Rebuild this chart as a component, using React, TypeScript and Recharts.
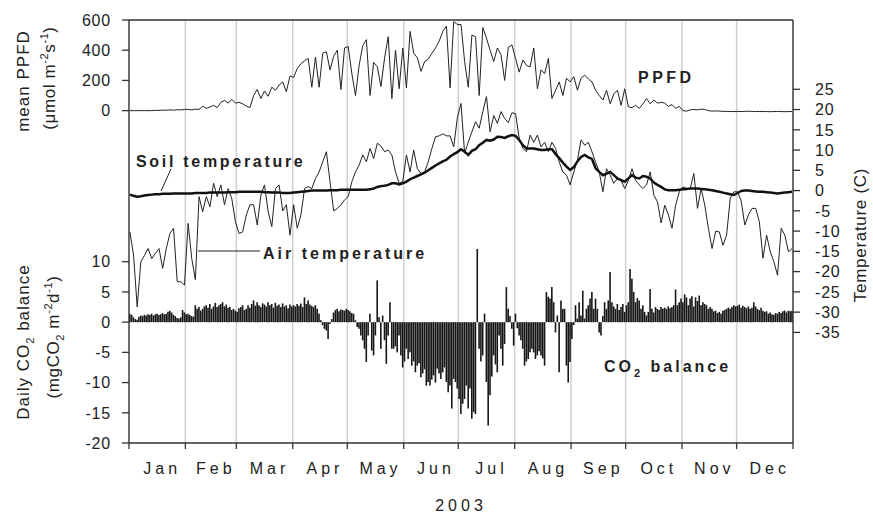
import React from "react";
import { ComposedChart, Bar, Line, XAxis, YAxis, CartesianGrid, ReferenceLine } from "recharts";

const MONTHS = ["Jan", "Feb", "Mar", "Apr", "May", "Jun", "Jul", "Aug", "Sep", "Oct", "Nov", "Dec"];
const MONTH_STARTS = [0, 31, 59, 90, 120, 151, 181, 212, 243, 273, 304, 334, 365];

// daily CO2 balance (mgCO2 m-2 d-1), one bar per day
const co2Jan = [1.4, 1.2, 0.8, 0.5, 0.4, 0.9, 1.1, 1.0, 1.2, 1.1, 1.3, 1.2, 1.4, 1.1, 1.3, 1.4, 1.2, 1.3, 1.5, 1.3, 1.4, 1.7, 1.9, 1.6, 1.2, 1.0, 0.7, 0.6, 0.8, 2.0, 1.6];
const co2Feb = [1.3, 1.4, 1.2, 1.0, 0.9, 2.8, 2.2, 2.5, 1.9, 2.2, 2.6, 2.8, 2.4, 3.0, 2.2, 2.6, 3.2, 2.5, 2.8, 3.0, 3.3, 2.6, 2.9, 2.4, 2.5, 2.0, 2.2, 1.9];
const co2Mar = [1.7, 2.3, 2.5, 2.8, 2.0, 2.2, 2.8, 2.4, 3.0, 3.6, 2.7, 3.3, 2.8, 2.5, 3.1, 2.9, 2.6, 3.3, 2.8, 3.0, 2.4, 3.2, 2.7, 2.9, 2.5, 3.1, 2.6, 2.8, 2.3, 2.9, 2.6];
const co2Apr = [2.8, 2.6, 3.0, 2.7, 3.1, 2.5, 4.1, 3.0, 3.6, 2.9, 2.7, 2.5, 2.8, 2.2, 1.4, 0.3, -0.5, -1.1, -1.4, -2.8, -0.3, 0.5, 1.6, 2.0, 2.2, 1.8, 2.1, 2.0, 1.9, 2.2];
const co2May = [2.0, 1.8, 1.5, 1.4, 0.3, -0.8, -1.1, -2.2, -3.0, -4.4, -6.6, -2.2, 1.4, -4.7, -5.5, -2.2, 6.9, 0.8, -4.4, 1.1, -3.0, -6.9, -2.2, 3.3, -4.4, -4.4, -4.0, -5.0, -2.2, -5.5, -7.5];
const co2Jun = [-6.5, -4.4, -6.1, -5.0, -7.2, -6.5, -8.3, -7.2, -6.8, -9.1, -8.5, -7.8, -10.5, -9.9, -10.5, -9.5, -8.8, -10.0, -7.7, -8.5, -9.4, -8.3, -7.5, -9.9, -11.6, -10.5, -14.3, -9.4, -9.9, -11.0];
const co2Jul = [-12.7, -15.2, -13.5, -12.7, -10.5, -14.3, -11.0, -16.0, -14.9, -15.2, 12.1, -4.4, -6.5, -5.5, 1.4, -9.9, -17.1, -12.1, -9.0, -5.5, -7.0, -8.3, -2.2, -4.4, -7.2, -3.6, 5.8, 2.2, 1.0, -1.1, -3.9];
const co2Aug = [1.4, -1.0, -2.2, -3.0, -4.4, -7.2, -6.5, -6.1, -5.0, -4.4, -5.0, -6.1, -5.5, -4.8, -5.5, -6.0, -7.2, 5.0, 4.2, 3.9, 5.8, 3.3, -1.7, 1.1, -8.3, 3.6, 2.2, 2.2, -7.2, -10.0, -6.6];
const co2Sep = [-2.8, -0.5, 2.8, 0.6, 3.3, 1.1, 5.2, 0.6, 2.2, 2.8, 3.9, 5.0, 2.2, 3.9, 2.2, -1.7, -2.2, 1.0, 3.3, 2.2, 3.6, 8.3, 3.3, 2.6, 2.2, 3.0, 2.0, 2.5, 3.0, 1.7];
const co2Oct = [2.8, 3.3, 8.8, 7.2, 5.0, 3.3, 4.0, 3.6, 2.2, 2.8, 1.7, 1.1, 1.7, 5.5, 2.2, 1.6, 2.5, 2.2, 2.0, 2.5, 2.2, 2.4, 2.2, 2.6, 2.3, 2.5, 2.8, 5.4, 2.8, 3.3, 3.9];
const co2Nov = [3.3, 4.6, 4.1, 2.8, 3.9, 4.3, 2.6, 4.1, 3.5, 4.4, 2.8, 3.3, 3.0, 2.8, 2.2, 2.5, 2.2, 1.8, 1.9, 1.5, 1.7, 1.4, 1.9, 2.0, 2.2, 2.4, 2.2, 2.5, 2.8, 2.6];
const co2Dec = [2.7, 2.9, 2.4, 2.7, 2.5, 2.3, 2.6, 2.2, 2.4, 3.3, 2.6, 2.2, 2.0, 2.4, 1.9, 1.7, 1.8, 1.4, 1.6, 1.3, 1.2, 1.5, 1.4, 1.7, 1.5, 1.8, 1.9, 1.6, 1.9, 1.8, 1.9];

// every second day (day 1, 3, 5 ... 365), one row per month
const ppfd = [
  0, 0, 0, 0, 0, 0, 0, 2, 2, 3, 3, 5, 3, 6, 5, 8,
  8, 5, 10, 8, 30, 15, 25, 35, 20, 55, 68, 50, 75, 50,
  55, 45, 30, 20, 100, 140, 80, 130, 95, 155, 135, 170, 190, 125, 230,
  220, 280, 310, 330, 345, 155, 355, 155, 380, 390, 270, 360, 400, 140, 415,
  425, 245, 100, 300, 430, 470, 100, 320, 290, 160, 350, 490, 80, 400, 145, 415,
  150, 525, 380, 350, 260, 325, 340, 380, 415, 460, 525, 560, 150, 590, 570,
  570, 325, 155, 500, 490, 100, 550, 480, 400, 325, 415, 370, 200, 420, 435,
  345, 255, 335, 300, 290, 415, 145, 270, 245, 345, 80, 135, 190, 100, 215, 190,
  225, 135, 215, 235, 210, 190, 135, 100, 70, 135, 45, 110, 135, 35, 145,
  25, 20, 35, 15, 45, 80, 45, 70, 50, 55, 50, 28, 40, 15, 28,
  0, -3, 5, 8, 5, 10, 8, 0, -3, -2, -3, -5, -5, -6, -6,
  -5, -6, -5, -4, -5, -6, -5, -6, -6, -7, -6, -5, -6, -7, -6, -6,
];

const airTemp = [
  -10.2, -15.9, -28.7, -17.6, -16.0, -14.3, -16.8, -15.5, -14.3, -19.2, -14.3, -10.6, -9.3, -22.5, -22.5, -23.3,
  -8.1, -16.8, -22.0, -1.5, -5.2, -1.5, -4.0, 1.8, -1.5, 1.4, -3.5, 0.5, -2.0, -7.7,
  -10.6, -10.2, -6.0, -3.5, -3.5, -8.5, -1.1, 1.4, -5.2, -8.9, 0.5, 1.4, -5.0, -3.5, -11.0,
  -3.5, -9.3, -6.0, 0.5, 1.0, 0.5, 3.0, 4.6, 7.1, 9.6, 2.2, -5.0, -4.4, -3.5, -2.3,
  -1.5, 2.2, 4.6, 6.3, 8.8, 7.1, 10.4, 7.9, 11.7, 11.0, 9.6, 10.0, 8.8, 4.6, 1.8, 2.2,
  8.8, 4.6, 10.0, 5.4, 4.2, 4.6, 7.1, 10.4, 13.3, 13.5, 14.0, 13.5, 13.5, 10.8, 18.0,
  21.5, 9.2, 12.0, 14.5, 17.0, 15.4, 19.5, 23.2, 14.5, 18.5, 16.6, 19.5, 17.8, 16.8, 19.2,
  19.0, 12.9, 10.4, 9.6, 13.7, 11.9, 13.7, 10.8, 11.9, 9.6, 11.9, 10.4, 7.0, 4.6, 3.8, 1.4,
  4.6, 7.5, 12.5, 11.2, 11.9, 9.6, 7.0, 4.6, -0.3, 5.4, 3.8, 1.8, 3.0, 2.5, 0.5,
  2.5, 5.4, 2.5, 1.4, 0.5, 1.4, 4.6, -1.1, -2.8, -8.0, -3.6, -6.0, -9.3, -3.6, -0.3,
  0.9, 0.5, 0.5, 4.2, -4.4, 0.5, -3.6, -9.3, -14.3, -10.0, -10.2, -13.5, -11.0, -1.9, -0.3,
  -0.3, -2.5, -8.5, -6.0, -4.4, -4.4, -7.7, -16.7, -11.0, -15.1, -17.6, -20.9, -9.3, -11.0, -15.1, -14.3,
];

const soilTemp = [
  -1.0, -1.3, -1.5, -1.4, -1.2, -1.1, -1.0, -0.9, -0.9, -0.8, -0.8, -0.8, -0.7, -0.7, -0.7, -0.7,
  -0.7, -0.7, -0.6, -0.6, -0.6, -0.6, -0.5, -0.5, -0.5, -0.5, -0.5, -0.4, -0.4, -0.4,
  -0.3, -0.3, -0.3, -0.3, -0.3, -0.3, -0.3, -0.4, -0.4, -0.5, -0.5, -0.5, -0.6, -0.6, -0.6,
  -0.5, -0.4, -0.3, -0.2, -0.1, 0, 0, 0, 0, 0, 0.1, 0.1, 0.1, 0.2, 0.2,
  0.2, 0.2, 0.2, 0.2, 0.2, 0.2, 0.3, 0.5, 0.9, 1.1, 1.2, 1.4, 1.8, 1.8, 1.5, 1.8,
  2.2, 2.8, 3.2, 3.6, 4.0, 4.4, 5.0, 5.6, 6.2, 6.7, 7.2, 7.6, 8.4, 9.0, 9.5,
  10.2, 9.6, 8.8, 9.8, 10.2, 11.2, 11.8, 12.5, 12.3, 12.6, 13.3, 13.2, 13.0, 13.4, 13.7,
  13.5, 12.5, 11.2, 10.4, 10.4, 10.4, 10.2, 10.0, 10.0, 10.2, 10.2, 9.0, 8.0, 6.9, 5.9, 5.1,
  5.8, 7.2, 8.3, 8.8, 8.2, 7.8, 5.5, 4.6, 3.8, 4.2, 4.6, 3.8, 3.0, 2.6, 2.2,
  3.0, 3.8, 3.2, 3.0, 3.6, 3.4, 3.0, 2.0, 1.4, 0.9, 0.3, 0.1, 0.1, 0.1, 0.2,
  0.3, 0.4, 0.5, 0.5, 0.5, 0.4, 0.3, 0.2, 0.1, -0.1, -0.3, -0.5, -0.7, -0.9, -1.1,
  -0.6, -0.1, 0, 0, -0.1, -0.2, -0.3, -0.3, -0.4, -0.5, -0.6, -0.7, -0.6, -0.5, -0.4, -0.3,
];

const co2 = [
  ...co2Jan, ...co2Feb, ...co2Mar, ...co2Apr, ...co2May, ...co2Jun,
  ...co2Jul, ...co2Aug, ...co2Sep, ...co2Oct, ...co2Nov, ...co2Dec,
];

// left axis is in CO2 units; the PPFD scale sits above it (0 PPFD = 35, 40 PPFD per unit)
const LEFT_TICKS = [-20, -15, -10, -5, 0, 5, 10, 35, 40, 45, 50];
const TEMP_TICKS = [25, 20, 15, 10, 5, 0, -5, -10, -15, -20, -25, -30, -35];

const rows = co2.map((v, i) => {
  const r: any = { x: i + 0.5, co2: v };
  if (i % 2 === 0) {
    r.ppfd = ppfd[i / 2];
    r.air = airTemp[i / 2];
    r.soil = soilTemp[i / 2];
  }
  return r;
});

const FONT = '"Liberation Sans", Arial, sans-serif';
const INK = "#222";
const PX_PER_DAY = (793 - 129) / 365;

const MonthTick = ({ x, y, payload }: any) => {
  const i = MONTH_STARTS.indexOf(payload.value);
  if (i < 0 || i >= 12) return <g />;
  const half = ((MONTH_STARTS[i + 1] - MONTH_STARTS[i]) / 2) * PX_PER_DAY;
  return (
    <text x={x + half + 5} y={y} dy="0.71em" textAnchor="middle" fontSize={16} letterSpacing={4} fill={INK}>
      {MONTHS[i]}
    </text>
  );
};

const LeftTick = ({ x, y, payload }: any) => {
  const v = payload.value;
  const label = v >= 35 ? String(Math.round((v - 35) * 40)) : String(v);
  return (
    <text x={x} y={y} dy="0.36em" textAnchor="end" fontSize={16} letterSpacing={0.8} fill={INK}>
      {label}
    </text>
  );
};

const RightTick = ({ x, y, payload }: any) => (
  <text x={x} y={y} dy="0.36em" textAnchor="start" fontSize={16} letterSpacing={0.8} fill={INK}>
    {payload.value}
  </text>
);

const axisStroke = { stroke: "#333", strokeWidth: 1.3 };

const Overlay = () => (
  <svg width={873} height={514} style={{ position: "absolute", left: 0, top: 0, pointerEvents: "none" }} fontFamily={FONT} fill={INK}>
    {/* axis titles */}
    <text transform="translate(29,81) rotate(-90)" textAnchor="middle" fontSize={17} letterSpacing={1}>mean PPFD</text>
    <text transform="translate(55,78) rotate(-90)" textAnchor="middle" fontSize={17} letterSpacing={0.6}>
      (μmol m<tspan dy={-7} fontSize={11}>-2</tspan>
      <tspan dy={7}>s</tspan>
      <tspan dy={-7} fontSize={11}>-1</tspan>
      <tspan dy={7}>)</tspan>
    </text>
    <text transform="translate(29,342) rotate(-90)" textAnchor="middle" fontSize={17} letterSpacing={1}>
      Daily CO<tspan dy={5} fontSize={11}>2</tspan>
      <tspan dy={-5}> balance</tspan>
    </text>
    <text transform="translate(59,337) rotate(-90)" textAnchor="middle" fontSize={17} letterSpacing={0.6}>
      (mgCO<tspan dy={5} fontSize={11}>2</tspan>
      <tspan dy={-5}> m</tspan>
      <tspan dy={-7} fontSize={11}>-2</tspan>
      <tspan dy={7}>d</tspan>
      <tspan dy={-7} fontSize={11}>-1</tspan>
      <tspan dy={7}>)</tspan>
    </text>
    <text transform="translate(866,235) rotate(-90)" textAnchor="middle" fontSize={17} letterSpacing={0.7}>Temperature (C)</text>
    <text x={461} y={511} textAnchor="middle" fontSize={16} letterSpacing={4}>2003</text>

    {/* series annotations */}
    <text x={638} y={83} fontSize={16} fontWeight="bold" letterSpacing={3.5}>PPFD</text>
    <text x={136} y={166.5} fontSize={16} fontWeight="bold" letterSpacing={2.7}>Soil temperature</text>
    <line x1={171} y1={169} x2={161} y2={191} stroke={INK} strokeWidth={1} />
    <text x={263} y={259} fontSize={16} fontWeight="bold" letterSpacing={3}>Air temperature</text>
    <line x1={198} y1={251} x2={260} y2={251} stroke={INK} strokeWidth={1} />
    <text x={604} y={372} fontSize={16} fontWeight="bold" letterSpacing={3}>
      CO<tspan dy={5} fontSize={11}>2</tspan>
      <tspan dy={-5}> balance</tspan>
    </text>
  </svg>
);

export default function App() {
  return (
    <div style={{ position: "absolute", left: 0, top: 0, width: 873, height: 514, fontFamily: FONT, background: "#fff" }}>
      <ComposedChart width={873} height={514} data={rows} margin={{ top: 20, right: 0, bottom: 0, left: 0 }}>
        <CartesianGrid yAxisId="left" horizontal={false} stroke="#cfcfcf" strokeWidth={1.5} />
        <XAxis
          dataKey="x"
          type="number"
          domain={[0, 365]}
          ticks={MONTH_STARTS}
          interval={0}
          height={71}
          tickSize={6}
          tickMargin={14}
          axisLine={axisStroke}
          tickLine={axisStroke}
          tick={<MonthTick />}
        />
        <YAxis
          yAxisId="left"
          orientation="left"
          width={129}
          domain={[-20, 50]}
          ticks={LEFT_TICKS}
          interval={0}
          tickSize={7}
          tickMargin={11}
          axisLine={axisStroke}
          tickLine={axisStroke}
          tick={<LeftTick />}
        />
        <YAxis yAxisId="ppfd" hide domain={[-2200, 600]} />
        <YAxis
          yAxisId="temp"
          orientation="right"
          width={80}
          domain={[-62.3, 42.1]}
          ticks={TEMP_TICKS}
          interval={0}
          tickSize={7}
          tickMargin={15}
          axisLine={axisStroke}
          tickLine={axisStroke}
          tick={<RightTick />}
        />
        <ReferenceLine yAxisId="left" y={50} stroke="#333" strokeWidth={1.3} />
        <Bar yAxisId="left" dataKey="co2" barSize={1.6} fill="#161616" isAnimationActive={false} />
        <Line yAxisId="ppfd" dataKey="ppfd" type="linear" stroke={INK} strokeWidth={1} dot={false} activeDot={false} connectNulls isAnimationActive={false} />
        <Line yAxisId="temp" dataKey="air" type="linear" stroke={INK} strokeWidth={1} dot={false} activeDot={false} connectNulls isAnimationActive={false} />
        <Line yAxisId="temp" dataKey="soil" type="linear" stroke="#111" strokeWidth={2.5} dot={false} activeDot={false} connectNulls isAnimationActive={false} />
      </ComposedChart>
      <Overlay />
    </div>
  );
}
